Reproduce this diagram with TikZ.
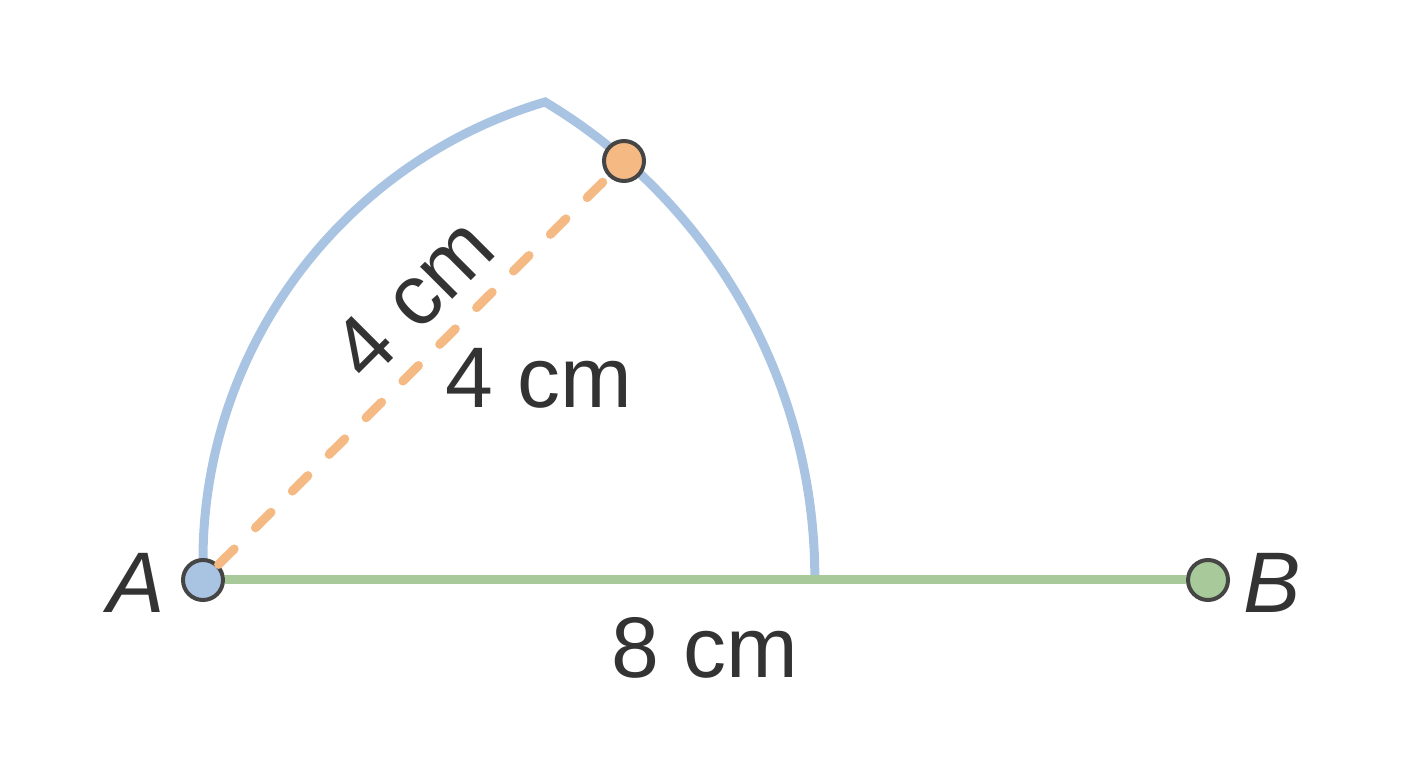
\documentclass[tikz,border=0pt]{standalone}
\usepackage{fontspec}
\setmainfont{Liberation Sans}
\definecolor{arcblue}{HTML}{A9C4E2}
\definecolor{segorange}{HTML}{F5B984}
\definecolor{seggreen}{HTML}{A8C99A}
\definecolor{rim}{HTML}{454545}
\definecolor{ink}{HTML}{333333}
\begin{document}
\begin{tikzpicture}[x=1pt, y=1pt,
    dot/.style = {circle, draw=rim, line width=4pt, minimum size=40pt, inner sep=0pt},
    lbl/.style = {text=ink, font=\fontsize{86}{86}\selectfont, inner sep=0pt},
    arcline/.style = {draw=arcblue, line width=9pt},
    dashline/.style = {draw=segorange, line width=9pt, line cap=round, dash pattern=on 22pt off 30pt},
    segline/.style = {draw=seggreen, line width=9pt}]
    \useasboundingbox (0,0) rectangle (1408,768);

    % construction arcs
    \coordinate (start) at (203,208);
    \draw[arcline] (start) arc[start angle=180, end angle=106.5, radius=477.7]
        coordinate (apex)
        arc[start angle=59.1, end angle=0, radius=554.6];

    \node[dot, fill=arcblue](A) at (203,188){};
    \node[dot, fill=seggreen](B) at (1208,188){};
    \node[dot, fill=segorange](P) at (624,607){};

    \draw[segline] (A) -- (B);
    \draw[dashline] (A) -- (P);

    \node[lbl, font=\fontsize{86}{86}\selectfont\itshape](labA) at (136,185){A};
    \node[lbl, font=\fontsize{86}{86}\selectfont\itshape](labB) at (1272,185){B};
    \node[lbl, rotate=45](rad1) at (413,470){4 cm};
    \node[lbl](rad2) at (539,390){4 cm};
    \node[lbl](base) at (705,120){8 cm};
\end{tikzpicture}
\end{document}
